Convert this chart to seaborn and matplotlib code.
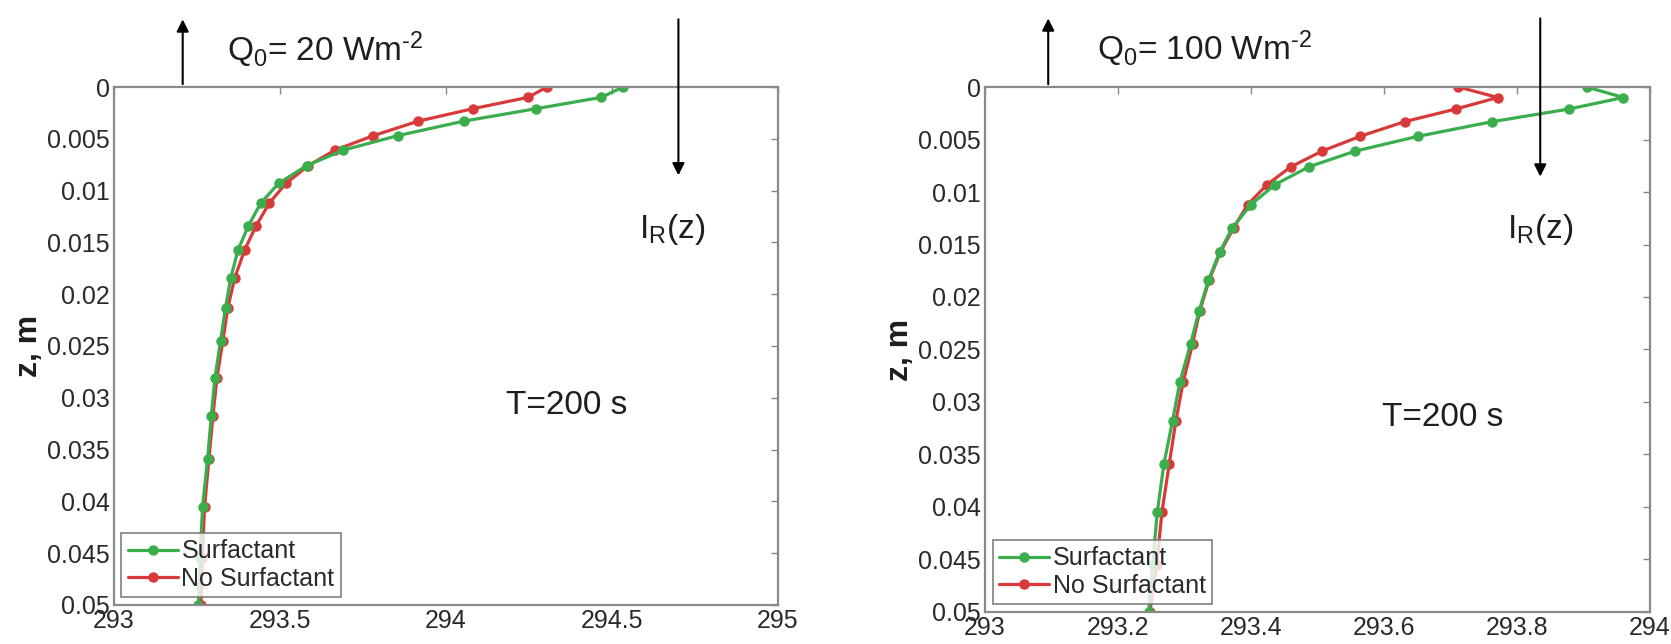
import matplotlib
matplotlib.use("Agg")
import matplotlib.pyplot as plt
import seaborn as sns
import pandas as pd

# depth of the grid points (m), same for all curves
depth = [0, 0.001, 0.0021, 0.0033, 0.0047, 0.0061, 0.0076, 0.0093, 0.0112, 0.0134,
         0.0157, 0.0184, 0.0213, 0.0245, 0.0281, 0.0318, 0.0359, 0.0405, 0.0455, 0.05]

# temperature profiles (K), Q0 = 20 W m-2
surf_20 = [294.533, 294.468, 294.27, 294.053, 293.854, 293.69, 293.58, 293.496, 293.442, 293.405,
           293.374, 293.352, 293.336, 293.321, 293.304, 293.293, 293.282, 293.267, 293.259, 293.254]
nosurf_20 = [294.304, 294.247, 294.08, 293.916, 293.781, 293.665, 293.585, 293.518, 293.468, 293.428,
             293.394, 293.364, 293.343, 293.328, 293.31, 293.298, 293.286, 293.273, 293.266, 293.262]

# temperature profiles (K), Q0 = 100 W m-2
surf_100 = [293.905, 293.96, 293.878, 293.763, 293.651, 293.557, 293.487, 293.436, 293.40, 293.372,
            293.353, 293.336, 293.322, 293.309, 293.293, 293.282, 293.269, 293.259, 293.252, 293.246]
nosurf_100 = [293.712, 293.771, 293.708, 293.631, 293.564, 293.507, 293.46, 293.424, 293.395, 293.374,
              293.354, 293.337, 293.323, 293.312, 293.298, 293.287, 293.277, 293.266, 293.258, 293.248]

y_ticks = [0, 0.005, 0.01, 0.015, 0.02, 0.025, 0.03, 0.035, 0.04, 0.045, 0.05]
y_ticklabels = ['0', '0.005', '0.01', '0.015', '0.02', '0.025', '0.03', '0.035', '0.04', '0.045', '0.05']
x_ticks_20 = [293, 293.5, 294, 294.5, 295]
x_ticklabels_20 = ['293', '293.5', '294', '294.5', '295']
x_ticks_100 = [293, 293.2, 293.4, 293.6, 293.8, 294]
x_ticklabels_100 = ['293', '293.2', '293.4', '293.6', '293.8', '294']

sns.set_style("white")
plt.rcParams['font.family'] = ['Liberation Sans', 'DejaVu Sans']
plt.rcParams['mathtext.fontset'] = 'custom'
plt.rcParams['mathtext.rm'] = 'Liberation Sans'
plt.rcParams['mathtext.it'] = 'Liberation Sans:italic'
plt.rcParams['mathtext.bf'] = 'Liberation Sans:bold'
plt.rcParams['mathtext.default'] = 'rm'

green = '#3aad4c'
red = '#d83a3a'
palette = {'Surfactant': green, 'No Surfactant': red}
txt = '#1e1e1e'


def make_df(surf, nosurf):
    a = pd.DataFrame({'T': nosurf, 'z': depth, 'case': 'No Surfactant'})
    b = pd.DataFrame({'T': surf, 'z': depth, 'case': 'Surfactant'})
    return pd.concat([a, b], ignore_index=True)


fig = plt.figure(figsize=(16.71, 6.44), dpi=100)
ax1 = fig.add_axes([0.0682, 0.0606, 0.3974, 0.8043])
ax2 = fig.add_axes([0.5895, 0.0497, 0.3979, 0.8152])

panels = [
    (ax1, make_df(surf_20, nosurf_20), x_ticks_20, x_ticklabels_20, (293, 295),
     r"Q$_0$= 20 Wm$^{\text{-}2}$", 293.207, 294.70, 293.339, 294.68, 0.0138, 294.365, 0.0307),
    (ax2, make_df(surf_100, nosurf_100), x_ticks_100, x_ticklabels_100, (293, 294),
     r"Q$_0$= 100 Wm$^{\text{-}2}$", 293.095, 293.835, 293.169, 293.835, 0.0136, 293.688, 0.0315),
]

for (ax, df, xt, xtl, xlim, qtext, x_up, x_down, x_q, x_ir, y_ir, x_t, y_t) in panels:
    sns.lineplot(data=df, x='T', y='z', hue='case', hue_order=['No Surfactant', 'Surfactant'],
                 palette=palette, sort=False, estimator=None, marker='o', markersize=6.5,
                 linewidth=2.3, legend=False, ax=ax)
    for line in ax.lines:
        line.set_markeredgecolor(line.get_color())
        line.set_markeredgewidth(1.0)

    ax.set_xlim(*xlim)
    ax.set_ylim(0.05, 0)
    ax.set_xticks(xt)
    ax.set_xticklabels(xtl)
    ax.set_yticks(y_ticks)
    ax.set_yticklabels(y_ticklabels)
    ax.set_xlabel('')
    ax.set_ylabel('z, m', fontsize=23, fontweight='bold', labelpad=2, color=txt)
    ax.tick_params(axis='both', direction='in', length=5, width=1, color='#888888',
                   labelsize=18, labelcolor='#2a2a2a', pad=3, top=True, right=True)
    for sp in ax.spines.values():
        sp.set_visible(True)
        sp.set_color('#8a8a8a')
        sp.set_linewidth(1.6)

    # heat flux arrow (up) and radiation arrow (down)
    ax.annotate('', xy=(x_up, -0.0068), xytext=(x_up, 0), xycoords='data',
                arrowprops=dict(arrowstyle='-|>', color='black', lw=1.5, mutation_scale=18),
                annotation_clip=False)
    ax.annotate('', xy=(x_down, 0.0088), xytext=(x_down, -0.0068), xycoords='data',
                arrowprops=dict(arrowstyle='-|>', color='black', lw=1.5, mutation_scale=18),
                annotation_clip=False)
    ax.text(x_q, -0.0036, qtext, fontsize=24, ha='left', va='center', color=txt, clip_on=False)
    ax.text(x_ir, y_ir, r"I$_R$(z)", fontsize=24, ha='center', va='center', color=txt)
    ax.text(x_t, y_t, "T=200 s", fontsize=24, ha='center', va='center', color=txt)

    h = [ax.lines[1], ax.lines[0]]
    leg = ax.legend(h, ['Surfactant', 'No Surfactant'], loc='lower left', fontsize=18,
                    frameon=True, fancybox=False, borderaxespad=0.3, handlelength=2.0,
                    handletextpad=0.15, labelspacing=0.15, borderpad=0.25)
    leg.get_frame().set_edgecolor('#777777')
    leg.get_frame().set_linewidth(1.4)
    for t in leg.get_texts():
        t.set_color('#2a2a2a')

fig.savefig('out.png', dpi=100)
